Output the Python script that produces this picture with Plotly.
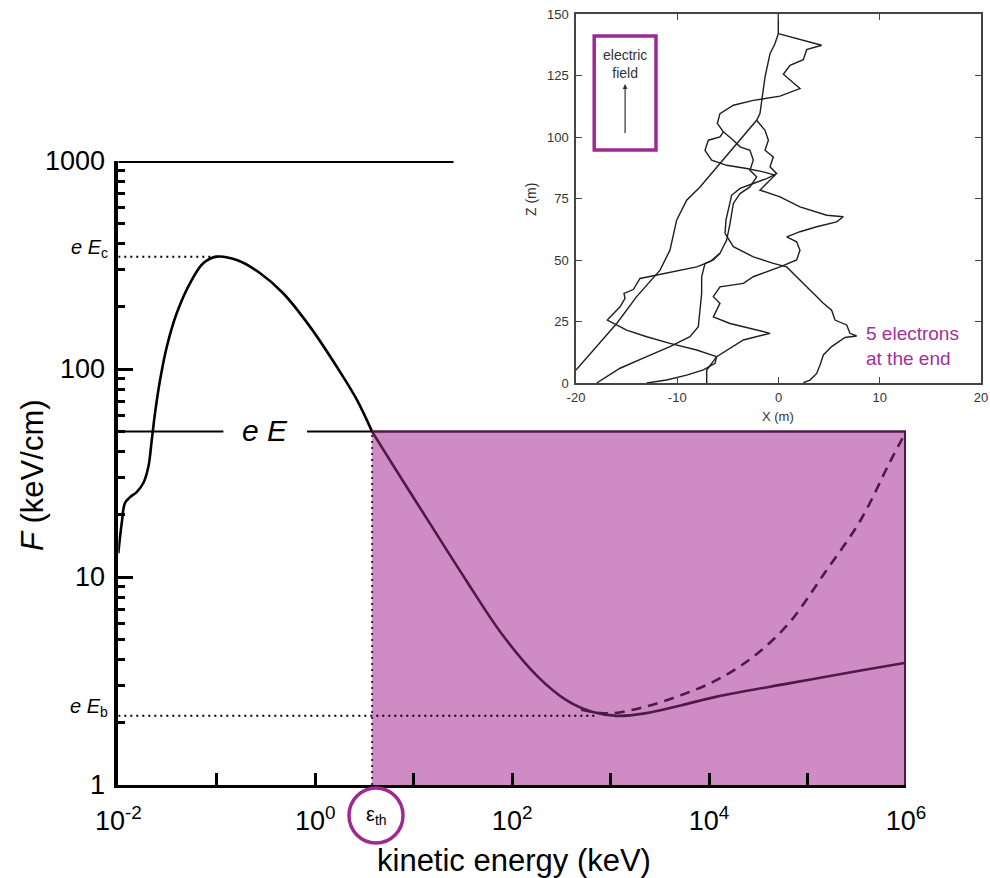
import numpy as np
import plotly.graph_objects as go

# ---------------- data (main panel) ----------------
# friction force curve, energies in keV, force in keV/cm
E_low = [0.01, 0.01084, 0.01169, 0.01315, 0.01538, 0.01795, 0.02018, 0.02188, 0.0236,
         0.02655, 0.03105, 0.03926, 0.05358, 0.07328, 0.1, 0.16, 0.274, 0.47, 0.891,
         1.663, 2.66, 3.78]
F_low = [13.0, 18.2, 22.7, 24.2, 25.6, 28.3, 33.8, 45.6, 61.4,
         88.5, 127.6, 185.8, 259, 323, 346.8, 334, 289.5, 231.9, 159,
         102.2, 70.9, 50]
E_high = [3.78, 6.31, 14.6, 33.9, 77.6, 182, 355, 646, 1148, 2239, 5248, 12023,
          64565, 346737, 1e6]
F_high = [50, 33.9, 18.1, 9.68, 5.36, 3.32, 2.56, 2.25, 2.15, 2.21, 2.42, 2.66,
          3.08, 3.55, 3.87]
E_dash = [501, 977, 2239, 5248, 12023, 28184, 64565, 147911, 346737, 676083, 1e6]
F_dash = [2.30, 2.21, 2.38, 2.71, 3.2, 4.14, 5.99, 10.4, 18.8, 35.2, 50]

eE = 50.0          # applied field force
Ec = 346.8         # critical field force (peak)
Eb = 2.15          # break-even field force (minimum)
eps_th = 3.78      # threshold energy (keV)
E_min_Eb = 700     # end of the eE_b dotted line
eE_gap = [0.1167, 0.826]   # gap in the eE line around its label
top_line_end = 25.4
x_tick_vals = [1e-2, 1e-1, 1, 10, 1e2, 1e3, 1e4, 1e5, 1e6]
x_tick_text = ["10<sup>-2</sup>", "", "10<sup>0</sup>", "", "10<sup>2</sup>", "",
               "10<sup>4</sup>", "", "10<sup>6</sup>"]
y_tick_vals = [1, 10, 100, 1000]
y_tick_text = ["1", "10", "100", "1000"]

# ---------------- data (inset: electron tracks, metres) ----------------
X1 = [-0.02, -0.02, -0.35, -0.84, -1.33, -1.83, -2.16, -4.13, -6.11, -7.75, -9.07,
      -10.06, -10.72, -11.70, -14.01, -15.98, -20.0]
Z1 = [150, 142.0, 137.9, 133.9, 124.4, 109.5, 106.8, 97.3, 87.9, 79.7, 74.3,
      66.2, 54.0, 45.9, 35.1, 24.2, 5.3]
X2 = [-0.02, 2.12, 4.26, 2.78, 2.45, 1.14, 0.48, 2.12, 0.15, -2.49, -4.46, -5.78,
      -6.04, -5.45, -5.78, -6.93, -7.26, -6.60, -5.12, -3.14, -1.50, -0.35, -1.00,
      -1.83, 0.15, 2.12, 4.76, 6.40, 5.74, 3.77, 2.12, 0.81, 1.79, 2.12, 1.79, 0.15,
      -2.49, -3.47, -5.78, -6.44, -5.78, -6.44, -4.79, -2.16, -0.84, -3.47, -6.11,
      -6.60, -7.09, -7.09]
Z2 = [142.0, 139.6, 137.3, 135.5, 131.4, 129.1, 125.5, 119.7, 116.6, 114.9, 112.9,
      109.5, 105.5, 102.1, 100.0, 98.7, 94.6, 90.6, 88.5, 87.2, 85.8, 84.5, 81.8,
      78.4, 75.7, 71.6, 68.2, 67.6, 65.5, 63.5, 61.5, 59.4, 57.4, 54.0, 50.0, 47.2,
      43.2, 40.5, 39.1, 35.1, 32.4, 26.9, 24.2, 21.5, 20.2, 17.5, 10.7, 8.0, 5.3, 0]
X3 = [-2.16, -1.33, -1.00, -1.33, -0.51, -0.84, -0.18, -1.17, -2.49, -3.80, -4.63,
      -4.86, -5.19, -5.28, -4.46, -2.49, -0.51, 0.81, 1.79, 3.11, 4.43, 5.25, 5.58,
      6.73, 7.06, 7.72, 6.57, 5.25, 4.43, 4.10, 3.77, 3.11, 2.45]
Z3 = [106.8, 102.7, 98.7, 94.6, 91.9, 87.9, 85.1, 83.1, 81.1, 79.1, 76.3, 71.6, 66.2,
      60.8, 55.4, 51.3, 48.6, 47.2, 43.2, 37.8, 32.4, 29.6, 25.6, 23.6, 20.2, 19.1,
      18.5, 14.8, 11.4, 7.3, 3.9, 1.2, 0.1]
X4 = [-5.45, -4.46, -3.80, -2.82, -2.49, -2.82, -2.16, -2.82, -3.80, -4.46, -4.79,
      -5.12, -5.78, -6.44, -7.26, -7.59, -7.59, -7.75, -7.92, -8.74, -10.72, -13.02,
      -15.65, -17.96]
Z4 = [102.1, 98.7, 96.0, 94.6, 90.6, 86.5, 83.8, 79.7, 77.0, 73.0, 64.8, 58.1, 52.7,
      50.0, 48.6, 43.2, 36.4, 29.6, 22.9, 18.8, 14.8, 10.7, 6.0, 0]
X5 = [-5.78, -6.77, -8.08, -9.73, -12.03, -13.68, -14.34, -15.26, -15.16, -15.65,
      -16.91, -15.0, -13.02, -10.72, -8.08, -6.11, -6.27, -7.42, -9.07, -11.05, -13.02]
Z5 = [52.7, 49.3, 47.2, 45.9, 43.9, 42.5, 38.0, 36.4, 34.4, 31.0, 25.6, 21.5, 18.8,
      16.1, 13.4, 10.7, 8.0, 5.3, 3.2, 1.2, 0]
tracks = [(X1, Z1), (X2, Z2), (X3, Z3), (X4, Z4), (X5, Z5)]
inset_x_ticks = [-20, -10, 0, 10, 20]
inset_x_text = ["-20", "-10", "0", "10", "20"]
inset_z_ticks = [0, 25, 50, 75, 100, 125, 150]

# ---------------- styling ----------------
W, H = 990, 878
FONT = "Liberation Sans, Arial, Helvetica, sans-serif"
PURPLE_FILL = "#CF8CC4"
DARK = "#4E1A48"
MAGENTA = "#9C2A92"
TEXT_PURPLE = "#A2309A"


def fx(p):
    return p / W


def fy(p):
    return 1 - p / H


main_xdom = [fx(118.3), fx(906)]
main_ydom = [fy(785), fy(161)]
ins_xdom = [fx(576), fx(981)]
ins_ydom = [fy(383), fy(14)]

fig = go.Figure()

# main curve
fig.add_trace(go.Scatter(x=E_low, y=F_low, mode="lines", xaxis="x", yaxis="y",
                         line=dict(color="black", width=2.6, shape="spline", smoothing=1.0),
                         hoverinfo="skip"))
fig.add_trace(go.Scatter(x=E_high, y=F_high, mode="lines", xaxis="x", yaxis="y",
                         line=dict(color=DARK, width=2.6, shape="spline", smoothing=1.0),
                         hoverinfo="skip"))
fig.add_trace(go.Scatter(x=E_dash, y=F_dash, mode="lines", xaxis="x", yaxis="y",
                         line=dict(color=DARK, width=2.6, dash="10px,7px", shape="spline",
                                   smoothing=1.0),
                         hoverinfo="skip"))

# eE line (black outside, dark purple on the region border)
for xs in ([E_low[0], eE_gap[0]], [eE_gap[1], eps_th]):
    fig.add_trace(go.Scatter(x=xs, y=[eE, eE], mode="lines", xaxis="x", yaxis="y",
                             line=dict(color="black", width=2), hoverinfo="skip"))
fig.add_trace(go.Scatter(x=[eps_th, x_tick_vals[-1]], y=[eE, eE], mode="lines",
                         xaxis="x", yaxis="y", line=dict(color=DARK, width=2.5),
                         hoverinfo="skip"))
fig.add_trace(go.Scatter(x=[x_tick_vals[-1], x_tick_vals[-1]], y=[y_tick_vals[0], eE],
                         mode="lines", xaxis="x", yaxis="y",
                         line=dict(color=DARK, width=4), hoverinfo="skip"))
# top frame line (partial)
fig.add_trace(go.Scatter(x=[E_low[0], top_line_end], y=[1000, 1000], mode="lines",
                         xaxis="x", yaxis="y", line=dict(color="black", width=4),
                         hoverinfo="skip"))
# dotted guides
fig.add_trace(go.Scatter(x=[E_low[0], 0.1], y=[Ec, Ec], mode="lines", xaxis="x", yaxis="y",
                         line=dict(color="black", width=2, dash="2px,4px"), hoverinfo="skip"))
fig.add_trace(go.Scatter(x=[E_low[0], E_min_Eb], y=[Eb, Eb], mode="lines", xaxis="x",
                         yaxis="y", line=dict(color="black", width=2, dash="2px,4px"),
                         hoverinfo="skip"))
fig.add_trace(go.Scatter(x=[eps_th, eps_th], y=[y_tick_vals[0], eE], mode="lines",
                         xaxis="x", yaxis="y",
                         line=dict(color=DARK, width=2, dash="2px,4px"), hoverinfo="skip"))

# inset tracks
for xs, zs in tracks:
    fig.add_trace(go.Scatter(x=xs, y=zs, mode="lines", xaxis="x2", yaxis="y2",
                             line=dict(color="#1e1e1e", width=1.4),
                             hoverinfo="skip"))

shapes = [
    dict(type="rect", xref="x", yref="y", x0=eps_th, x1=x_tick_vals[-1], y0=y_tick_vals[0],
         y1=eE, fillcolor=PURPLE_FILL, line=dict(width=0), layer="below"),
    # electric field box in inset
    dict(type="rect", xref="x2", yref="y2", x0=-18.2, x1=-12.1, y0=94.7, y1=141.1,
         line=dict(color=MAGENTA, width=3.5), fillcolor="rgba(0,0,0,0)"),
    # circle around eps_th
    dict(type="circle", xref="paper", yref="paper", x0=fx(349), x1=fx(403), y0=fy(843),
         y1=fy(788), line=dict(color=MAGENTA, width=3.5)),
]


def ann(**kw):
    kw.setdefault("showarrow", False)
    kw.setdefault("xanchor", "center")
    kw.setdefault("yanchor", "middle")
    return kw


annotations = [
    ann(text="<i>e E</i>", xref="x", yref="y", x=np.log10(0.31), y=np.log10(eE),
        font=dict(family=FONT, size=30, color="black"), yshift=1),
    ann(text="<i>e E</i><sub>c</sub>", xref="paper", yref="y", x=fx(110), y=np.log10(Ec),
        xanchor="right", yshift=8, font=dict(family=FONT, size=20, color="black")),
    ann(text="<i>e E</i><sub>b</sub>", xref="paper", yref="y", x=fx(110), y=np.log10(Eb),
        xanchor="right", yshift=8, font=dict(family=FONT, size=20, color="black")),
    ann(text="ε<sub>th</sub>", xref="paper", yref="paper", x=fx(376), y=fy(815),
        font=dict(family=FONT, size=20, color="black")),
    ann(text="<i>F</i> (keV/cm)", xref="paper", yref="paper", x=fx(33), y=fy(475),
        textangle=-90, font=dict(family=FONT, size=31, color="black")),
    ann(text="kinetic energy (keV)", xref="paper", yref="paper", x=fx(514), y=fy(860),
        font=dict(family=FONT, size=31, color="black")),
    # inset texts
    ann(text="X (m)", xref="paper", yref="paper", x=fx(778), y=fy(416),
        font=dict(family=FONT, size=13, color="#333")),
    ann(text="Z (m)", xref="paper", yref="paper", x=fx(531), y=fy(200), textangle=-90,
        font=dict(family=FONT, size=14, color="#333")),
    ann(text="electric<br>field", xref="x2", yref="y2", x=-15.15, y=129.5,
        font=dict(family=FONT, size=14, color="#333")),
    dict(text="", xref="x2", yref="y2", x=-15.15, y=121.5, ax=-15.15, ay=101,
         axref="x2", ayref="y2", showarrow=True, arrowhead=2, arrowsize=0.8,
         arrowwidth=1.2, arrowcolor="#333"),
    ann(text="5 electrons<br>at the end", xref="paper", yref="paper", x=fx(864),
        y=fy(346), xanchor="left", align="left",
        font=dict(family=FONT, size=19, color=TEXT_PURPLE)),
]

fig.update_layout(
    template="none",
    width=W, height=H,
    margin=dict(l=0, r=0, t=0, b=0),
    paper_bgcolor="white", plot_bgcolor="rgba(0,0,0,0)",
    showlegend=False,
    shapes=shapes, annotations=annotations,
    xaxis=dict(type="log", range=[-2, 6], domain=main_xdom, anchor="y",
               showline=True, linecolor="black", linewidth=3, mirror=False,
               ticks="inside", ticklen=12, tickwidth=2.5, tickcolor="black",
               tickvals=x_tick_vals, ticktext=x_tick_text, ticklabelstandoff=10,
               tickfont=dict(family=FONT, size=27, color="black"),
               showgrid=False, zeroline=False, automargin=False),
    xaxis3=dict(type="log", range=[-2, 6], overlaying="x", side="top", anchor="y",
                showline=False, ticks="inside", ticklen=12, tickwidth=2.5,
                tickcolor="black", tickvals=[0.1, 1, 10], showticklabels=False,
                showgrid=False, zeroline=False, automargin=False),
    yaxis=dict(type="log", range=[0, 3], domain=main_ydom, anchor="x",
               showline=True, linecolor="black", linewidth=3.5,
               ticks="inside", ticklen=15, tickwidth=2.5, tickcolor="black",
               tickvals=y_tick_vals, ticktext=y_tick_text, ticklabelstandoff=4,
               tickfont=dict(family=FONT, size=27, color="black"),
               minor=dict(ticks="inside", ticklen=7, tickwidth=2.5, tickcolor="black",
                          tickvals=[2, 3, 4, 5, 6, 7, 8, 9, 20, 30, 40, 50, 60, 70, 80,
                                    90, 200, 300, 400, 500, 600, 700, 800, 900],
                          showgrid=False),
               showgrid=False, zeroline=False, automargin=False),
    yaxis3=dict(type="log", range=[0, 3], overlaying="y", side="right", anchor="x",
                showline=False, ticks="inside", ticklen=14, tickwidth=2, tickcolor=DARK,
                tickvals=[10], showticklabels=False,
                minor=dict(ticks="inside", ticklen=8, tickwidth=2, tickcolor=DARK,
                           tickvals=[2, 3, 4, 5, 6, 7, 8, 9, 20, 30, 40], showgrid=False),
                showgrid=False, zeroline=False, automargin=False),
    xaxis2=dict(range=[-20, 20], domain=ins_xdom, anchor="y2", showline=True,
                linecolor="#444", linewidth=1.5, mirror="ticks", ticks="inside",
                ticklen=6, tickwidth=1.2, tickcolor="#444", tickvals=inset_x_ticks,
                ticktext=inset_x_text,
                tickfont=dict(family=FONT, size=13, color="#333"), ticklabelstandoff=2,
                showgrid=False, zeroline=False, automargin=False),
    yaxis2=dict(range=[0, 150], domain=ins_ydom, anchor="x2", showline=True,
                linecolor="#444", linewidth=1.5, mirror="ticks", ticks="inside",
                ticklen=6, tickwidth=1.2, tickcolor="#444", tickvals=inset_z_ticks,
                tickfont=dict(family=FONT, size=13, color="#333"), ticklabelstandoff=3,
                showgrid=False, zeroline=False, automargin=False),
)

fig.write_html("out.html")
